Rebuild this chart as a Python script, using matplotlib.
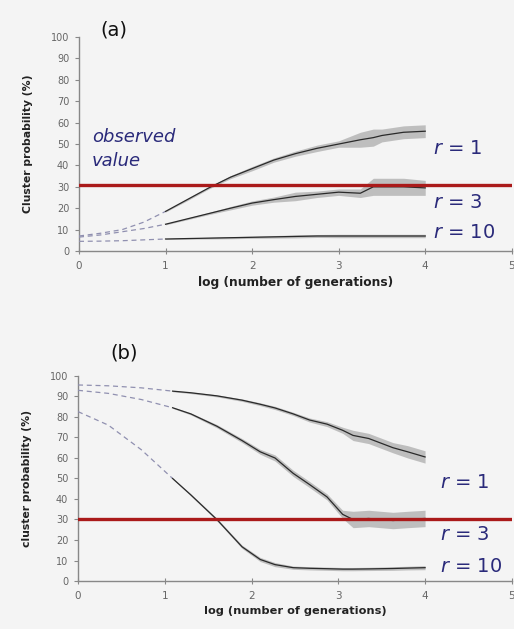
import matplotlib
matplotlib.use("Agg")
import matplotlib.pyplot as plt
import numpy as np

# ---------------- data ----------------
# panel (a)
a_x = [0, 0.25, 0.5, 0.75, 1.0, 1.25, 1.5, 1.75, 2.0, 2.25, 2.5, 2.75, 3.0, 3.25, 3.4, 3.5, 3.75, 4.0]
a_r1 = [7, 8.3, 10, 13.5, 18.5, 24, 29.5, 34.5, 38.5, 42.5, 45.5, 48, 50, 52, 53, 54, 55.5, 56]
a_r1_spread = [0, 0, 0, 0, 0.3, 0.5, 0.5, 0.7, 1, 1, 1.2, 1.5, 1.5, 3.5, 4, 3, 3, 3]
a_r3 = [6.5, 7.5, 9, 10.5, 12.5, 15, 17.5, 20, 22.4, 24, 25.5, 26.5, 27.5, 27, 30, 30, 30, 29.5]
a_r3_spread = [0, 0, 0, 0, 0.3, 0.4, 0.5, 0.8, 1, 1.2, 2, 1.5, 1.5, 2, 4, 4, 4, 3.5]
a_r10 = [4.5, 4.6, 4.8, 5.2, 5.6, 5.8, 6, 6.2, 6.4, 6.6, 6.8, 7, 7, 7, 7, 7, 7, 7]
a_r10_spread = [0, 0, 0, 0, 0.2, 0.3, 0.4, 0.5, 0.5, 0.6, 0.7, 0.7, 0.8, 0.8, 0.8, 0.8, 0.8, 0.8]

# panel (b)
b_x = [0, 0.35, 0.73, 1.09, 1.3, 1.6, 1.89, 2.1, 2.27, 2.48, 2.67, 2.87, 3.05, 3.17, 3.35, 3.63, 3.8, 4.0]
b_r1 = [95.6, 95.2, 94.2, 92.6, 91.8, 90.3, 88.2, 86.2, 84.4, 81.5, 78.5, 76.5, 73.5, 71, 69.5, 65, 63, 60.5]
b_r1_spread = [0, 0, 0, 0.3, 0.4, 0.5, 0.6, 0.7, 0.8, 0.8, 1, 1.2, 1.5, 2.5, 2.5, 2.5, 3, 3]
b_r3 = [93, 91.5, 88.5, 84.5, 81.5, 75.5, 68.5, 63, 60, 52.5, 47, 41, 32.5, 30, 30.5, 29.5, 30, 30.5]
b_r3_spread = [0, 0, 0, 0.3, 0.5, 0.8, 1, 1.2, 1.5, 1.5, 1.5, 1.5, 2, 4, 4, 4, 4, 4]
b_r10 = [82.6, 76, 64, 50, 42, 30, 16.7, 10.5, 8, 6.5, 6.2, 6, 5.8, 5.8, 5.9, 6.1, 6.3, 6.5]
b_r10_spread = [0, 0, 0, 0.3, 0.5, 0.6, 0.8, 1, 1, 0.8, 0.8, 0.8, 0.8, 0.8, 0.8, 0.9, 0.9, 1]

observed_a = 31
observed_b = 30
series_labels = ["1", "3", "10"]
x_ticks = [0, 1, 2, 3, 4, 5]
y_ticks = list(range(0, 101, 10))

# ---------------- style ----------------
BG = "#f4f4f4"
NAVY = "#2a2a7a"
RED = "#aa1a1a"
DARK = "#2a2a2a"
EARLY = "#9090b0"
SPLIT = 1.1

fig = plt.figure(figsize=(5.14, 6.29), dpi=100, facecolor=BG)


def draw_panel(ax, x, series, spreads, observed, xlabel_size):
    ax.set_facecolor(BG)
    x = np.asarray(x, dtype=float)
    early = x <= SPLIT
    late = x >= x[early][-1]
    for y, s in zip(series, spreads):
        y = np.asarray(y, dtype=float)
        s = np.asarray(s, dtype=float)
        ax.fill_between(x[late], (y - s)[late], (y + s)[late],
                        color="#8a8a8a", alpha=0.5, lw=0, zorder=2)
        ax.plot(x[early], y[early], color=EARLY, lw=0.9,
                ls=(0, (4, 3)), zorder=3)
        ax.plot(x[late], y[late], color=DARK, lw=0.9, zorder=3)
    ax.axhline(observed, color=RED, lw=2.4, zorder=4)
    ax.set_xlim(0, 5)
    ax.set_ylim(0, 100)
    ax.set_xticks(x_ticks)
    ax.set_yticks(y_ticks)
    for sp in ["top", "right"]:
        ax.spines[sp].set_visible(False)
    for sp in ["left", "bottom"]:
        ax.spines[sp].set_color("#888888")
        ax.spines[sp].set_linewidth(1.0)
    ax.tick_params(axis="y", direction="out", length=3, color="#888888",
                   labelsize=7, labelcolor="#666666", pad=4)
    ax.tick_params(axis="x", direction="inout", length=5, color="#888888",
                   labelsize=7.5, labelcolor="#666666", pad=5)
    ax.set_xlabel("log (number of generations)", fontsize=xlabel_size,
                  fontweight="bold", color="#222222", labelpad=3)


ax1 = fig.add_axes([0.1537, 0.601, 0.842, 0.340])
draw_panel(ax1, a_x, [a_r1, a_r3, a_r10],
           [a_r1_spread, a_r3_spread, a_r10_spread], observed_a, 8.8)
ax1.set_ylabel("Cluster probability (%)", fontsize=7.8, fontweight="bold",
               color="#222222", labelpad=13)

ax2 = fig.add_axes([0.1518, 0.0763, 0.844, 0.326])
draw_panel(ax2, b_x, [b_r1, b_r3, b_r10],
           [b_r1_spread, b_r3_spread, b_r10_spread], observed_b, 8.2)
ax2.set_ylabel("cluster probability (%)", fontsize=7.8, fontweight="bold",
               color="#222222", labelpad=13)

# panel letters
fig.text(100 / 514, 1 - 30 / 629, "(a)", fontsize=14, color="#111111",
         ha="left", va="center")
fig.text(110 / 514, 1 - 353 / 629, "(b)", fontsize=14, color="#111111",
         ha="left", va="center")

# observed value text
fig.text(92 / 514, 1 - 137 / 629, "observed", fontsize=13, style="italic",
         color=NAVY, ha="left", va="center")
fig.text(92 / 514, 1 - 161 / 629, "value", fontsize=13, style="italic",
         color=NAVY, ha="left", va="center")

# r labels
for lbl, ypx in zip(series_labels, [148, 202, 232]):
    fig.text(433 / 514, 1 - ypx / 629, "$r$ = " + lbl, fontsize=14,
             color=NAVY, ha="left", va="center")
for lbl, ypx in zip(series_labels, [483, 535, 566]):
    fig.text(440 / 514, 1 - ypx / 629, "$r$ = " + lbl, fontsize=14,
             color=NAVY, ha="left", va="center")

fig.savefig("out.png", dpi=100, facecolor=BG)
